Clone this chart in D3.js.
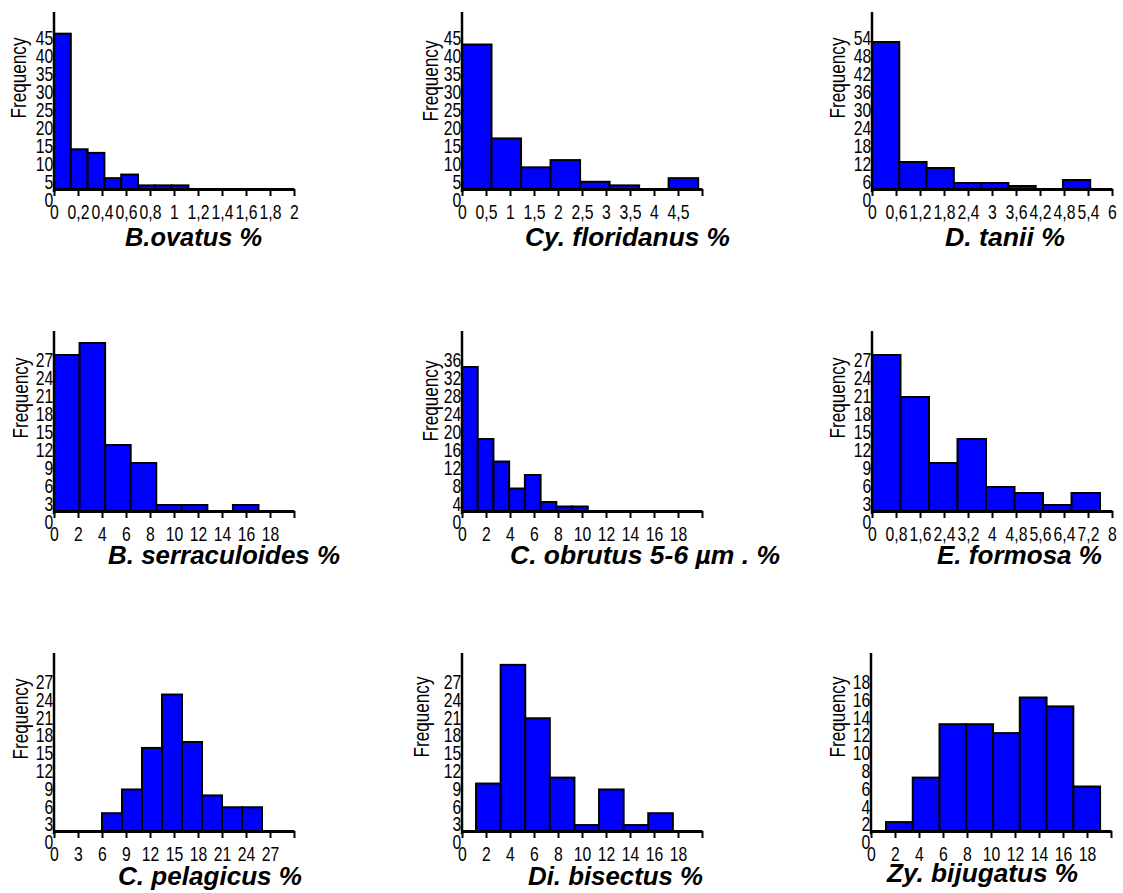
<!DOCTYPE html>
<html>
<head>
<meta charset="utf-8">
<script src="https://cdn.jsdelivr.net/npm/d3@7"></script>
<style>
  body { margin: 0; background: #fff; }
  svg { display: block; }
  text { font-family: "Liberation Sans", Arial, sans-serif; fill: #000; }
</style>
</head>
<body>
<svg id="chart" width="1123" height="893"></svg>
<script>
// ---- data ----
const titles = [
  "B.ovatus %", "Cy. floridanus %", "D. tanii %",
  "B. serraculoides %", "C. obrutus 5-6 µm . %", "E. formosa %",
  "C. pelagicus %", "Di. bisectus %", "Zy. bijugatus %"
];

const countsBOvatus = [43, 11, 10, 3, 4, 1, 1, 1];
const countsCyFloridanus = [40, 14, 6, 8, 2, 1, 0, 3];
const countsDTanii = [49, 9, 7, 2, 2, 1, 0, 3];
const countsBSerraculoides = [26, 28, 11, 8, 1, 1, 0, 1];
const countsCObrutus = [32, 16, 11, 5, 8, 2, 1, 1];
const countsEFormosa = [26, 19, 8, 12, 4, 3, 1, 3];
const countsCPelagicus = [3, 7, 14, 23, 15, 6, 4, 4];
const countsDiBisectus = [8, 28, 19, 9, 1, 7, 1, 3];
const countsZyBijugatus = [1, 6, 12, 12, 11, 15, 14, 5];

// first bin edge and bin width (in % units) of each histogram
const binStarts = [0, 0, 0, 0, 0, 0, 6, 1.17, 1.25];
const binWidths = [0.14, 0.615, 0.682, 2.13, 1.31, 0.95, 2.5, 2.05, 2.23];

// axis extents and tick steps
const xMaxes = [2, 5, 6, 20, 20, 8, 30, 20, 20];
const xSteps = [0.2, 0.5, 0.6, 2, 2, 0.8, 3, 2, 2];
const xLabelCounts = [11, 10, 11, 10, 10, 11, 10, 10, 10];
const yMaxes = [49, 49, 59, 30, 40, 30, 30, 30, 20];
const ySteps = [5, 5, 6, 3, 4, 3, 3, 3, 2];

const allCounts = [
  countsBOvatus, countsCyFloridanus, countsDTanii,
  countsBSerraculoides, countsCObrutus, countsEFormosa,
  countsCPelagicus, countsDiBisectus, countsZyBijugatus
];

// ---- layout (pixels) ----
const colX = [54, 462, 872];
const rows = [{ top: 12, base: 189 }, { top: 331, base: 511 }, { top: 653, base: 831 }];
const plotW = 240;
// title left x, baseline y, drawn width
const titlePos = [
  [125, 246, 137], [525, 246, 205], [945, 246, 120],
  [108, 564, 232], [510, 564, 270], [937, 564, 165],
  [118, 885, 184], [528, 885, 175], [887, 882, 191]
];
const freqPos = [
  [18, 78], [430, 81], [837, 78],
  [20, 398], [430, 401], [837, 398],
  [20, 719], [421, 717], [837, 717]
];
const squeeze = "scale(0.75,1)";

const svg = d3.select("#chart");
const comma = v => d3.format("~g")(+v.toFixed(2)).replace(".", ",");

allCounts.forEach((counts, i) => {
  const x0 = colX[i % 3] - (i === 8 ? 1 : 0);
  const row = rows[Math.floor(i / 3)];

  const x = d3.scaleLinear().domain([0, xMaxes[i]]).range([x0, x0 + plotW]);
  const y = d3.scaleLinear().domain([0, yMaxes[i]]).range([row.base, row.top]);

  const g = svg.append("g");

  // bars
  const bins = counts.map((c, j) => ({
    a: binStarts[i] + j * binWidths[i],
    b: binStarts[i] + (j + 1) * binWidths[i],
    c: c
  })).filter(d => d.c > 0);

  g.selectAll("rect")
    .data(bins)
    .enter()
    .append("rect")
    .attr("x", d => x(d.a))
    .attr("y", d => y(d.c))
    .attr("width", d => x(d.b) - x(d.a))
    .attr("height", d => y(0) - y(d.c))
    .attr("fill", "#0000ff")
    .attr("stroke", "#000")
    .attr("stroke-width", 2);

  // x axis
  const xTicks = d3.range(0, xMaxes[i] + xSteps[i] / 2, xSteps[i]);
  const xAxis = d3.axisBottom(x)
    .tickValues(xTicks)
    .tickSize(7)
    .tickSizeOuter(0)
    .tickPadding(8)
    .tickFormat((d, k) => k < xLabelCounts[i] ? comma(d) : "");
  const xg = g.append("g")
    .attr("transform", `translate(0,${row.base})`)
    .call(xAxis);
  xg.select(".domain").attr("stroke-width", 3).attr("stroke", "#000");
  xg.selectAll(".tick line").attr("stroke-width", 2).attr("stroke", "#000");
  xg.selectAll("text")
    .attr("transform", squeeze)
    .attr("font-family", null)
    .style("font-size", "21px");

  // y axis (labels sit a little below their tick, as in the source)
  const yTicks = d3.range(0, ySteps[i] * 9.5, ySteps[i]);
  const yAxis = d3.axisLeft(y)
    .tickValues(yTicks)
    .tickSize(0)
    .tickSizeOuter(0)
    .tickPadding(1);
  const yg = g.append("g")
    .attr("transform", `translate(${x0},0)`)
    .call(yAxis);
  yg.select(".domain").attr("stroke-width", 2.5).attr("stroke", "#000")
    .attr("d", `M0,${row.top}V${row.base + 3}`);
  yg.selectAll("text")
    .attr("transform", squeeze)
    .attr("font-family", null)
    .attr("y", 11)
    .style("font-size", "21px");

  // axis titles
  g.append("text")
    .attr("transform", `translate(${freqPos[i][0]},${freqPos[i][1]}) rotate(-90)`)
    .attr("text-anchor", "middle")
    .attr("dy", "0.35em")
    .attr("textLength", 81)
    .attr("lengthAdjust", "spacingAndGlyphs")
    .style("font-size", "22px")
    .text("Frequency");

  g.append("text")
    .attr("x", titlePos[i][0])
    .attr("y", titlePos[i][1])
    .attr("textLength", titlePos[i][2])
    .attr("lengthAdjust", "spacingAndGlyphs")
    .style("font-size", "26px")
    .style("font-weight", "bold")
    .style("font-style", "italic")
    .text(titles[i]);
});
</script>
</body>
</html>
